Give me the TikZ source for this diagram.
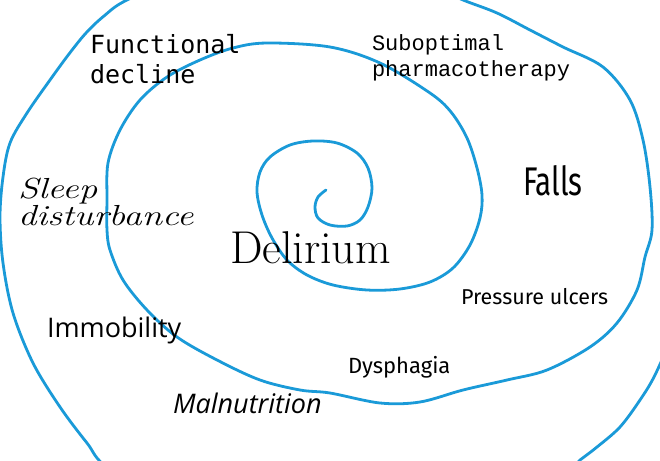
\documentclass[tikz,border=0pt]{standalone}
\usepackage{fontspec}
\newfontfamily\monosans{DejaVu Sans Mono}
\newfontfamily\monoserif{Liberation Mono}
\newfontfamily\fallsfont{Fira Sans}
\newfontfamily\opensans{Open Sans}
\newfontfamily\comicish{Fira Sans}
\definecolor{spiralblue}{HTML}{1A9AD8}
\tikzset{
  spiral/.style={draw=spiralblue, line width=2.8pt, line cap=round, line join=round},
  lbl/.style={inner sep=0pt, outer sep=0pt, text=black},
}
\begin{document}
\begin{tikzpicture}[x=1pt,y=-1pt]
\useasboundingbox (0,0) rectangle (660,460);
\fill[white] (0,0) rectangle (660,460);
\begin{scope}
\clip (0,0) rectangle (660,460);
\draw[spiral] plot[smooth, tension=0.55] coordinates {
 (326,190) (318,197) (315,207) (318,218) (330,225) (347,226) (360,220) (368,207)
 (372,188) (368,168) (357,153) (337,143) (313,141) (290,145) (270,157) (260,172)
 (257,192) (262,215) (272,238) (287,260) (307,275) (333,285) (367,290) (400,289)
 (430,282) (453,268) (470,245) (480,218) (482,195) (477,168) (467,138)
 (451,112) (430,93) (380,63) (330,47) (267,43) (233,48) (200,60) (167,77) (140,100)
 (120,130) (108,163) (107,200) (107,230) (110,250) (123,280) (147,310) (177,337)
 (217,360) (260,380) (300,390) (330,393) (380,403) (420,402) (463,390) (507,380)
 (547,370) (590,347) (617,323) (637,290) (645,257) (652,230) (650,187) (643,140)
 (630,100) (603,67) (563,47) (530,30) (497,13) (463,0) (420,-18) (300,-40)
 (190,-26) (127,0) (104,16) (86,33) (69,54) (50,80) (27,113) (10,143) (3,177)
 (0,217) (3,263) (13,313) (33,363) (60,407) (87,443) (110,470) (200,530)
 (400,540) (560,475) (580,460) (597,447) (620,427) (640,400) (655,375) (675,330)
};
\end{scope}
\node[lbl, anchor=base west, font=\monosans\fontsize{25}{30}\selectfont] (fd) at (90,53) {Functional};
\node[lbl, anchor=base west, font=\monosans\fontsize{25}{30}\selectfont] (fd2) at (90,83) {decline};
\node[lbl, anchor=base west, font=\monoserif\fontsize{22}{26}\selectfont] (sp) at (372,50) {Suboptimal};
\node[lbl, anchor=base west, font=\monoserif\fontsize{22}{26}\selectfont] (sp2) at (372,76) {pharmacotherapy};
\node[lbl, anchor=base west, xscale=0.74, font=\fallsfont\fontsize{40}{44}\selectfont] (falls) at (523,195) {Falls};
\node[lbl, anchor=base west, xscale=1.27, font=\itshape\fontsize{29}{34}\selectfont] (sd) at (18,198) {Sleep};
\node[lbl, anchor=base west, xscale=1.27, font=\itshape\fontsize{29}{34}\selectfont] (sd2) at (18,225) {disturbance};
\node[lbl, anchor=base west, font=\fontsize{46}{50}\selectfont] (del) at (230,263) {Delirium};
\node[lbl, anchor=base west, font=\opensans\fontsize{27}{30}\selectfont] (imm) at (47,337) {Immobility};
\node[lbl, anchor=base west, font=\opensans\itshape\fontsize{27}{30}\selectfont] (mal) at (173,413) {Malnutrition};
\node[lbl, anchor=base west, font=\comicish\fontsize{21.5}{26}\selectfont] (pu) at (461,304) {Pressure ulcers};
\node[lbl, anchor=base west, font=\comicish\fontsize{22}{26}\selectfont] (dys) at (348,373) {Dysphagia};
\end{tikzpicture}
\end{document}
